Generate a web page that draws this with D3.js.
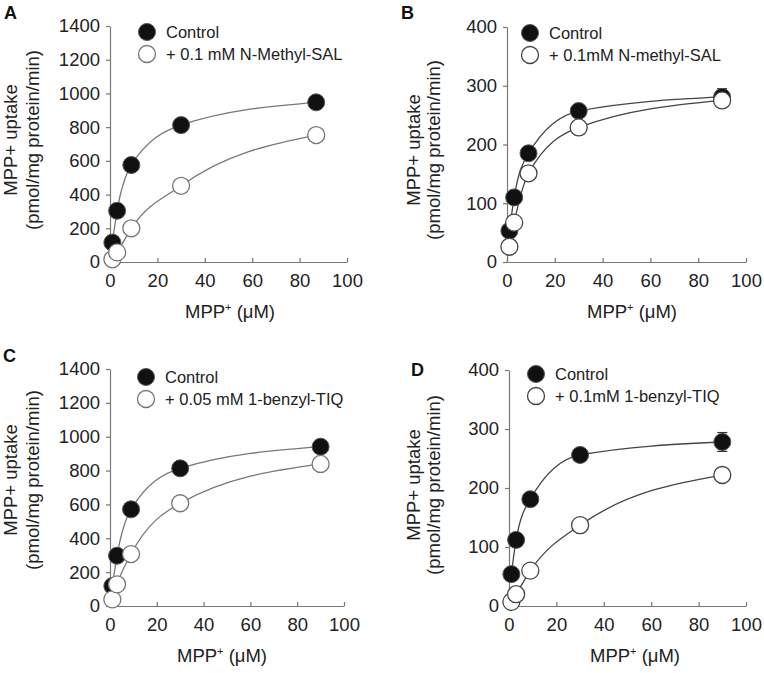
<!DOCTYPE html>
<html>
<head>
<meta charset="utf-8">
<script src="https://cdn.jsdelivr.net/npm/d3@7"></script>
<style>
  body { margin: 0; background: #fff; }
  svg { font-family: Arial, "Liberation Sans", sans-serif; }
</style>
</head>
<body>
<svg width="764" height="673"></svg>
<script>
// MPP+ concentrations (uM)
var concA = [1, 3, 9, 30, 87];
var concB = [1, 3, 9, 30, 90];
var concC = [1, 3, 9, 30, 90];
var concD = [1, 3, 9, 30, 90];

// uptake values, pmol/mg protein/min
var controlA = [115, 304, 575, 812, 947];
var treatedA = [16, 57, 200, 452, 753];
var controlB = [53, 110, 185, 257, 281];
var controlBErr = [0, 0, 0, 10, 14];
var treatedB = [26, 67, 151, 229, 275];
var controlC = [118, 297, 571, 813, 941];
var treatedC = [39, 128, 307, 607, 839];
var controlD = [54, 112, 181, 256, 278];
var controlDErr = [0, 0, 0, 10, 16];
var treatedD = [7, 20, 60, 137, 222];

var labelsTreated = ["+ 0.1 mM N-Methyl-SAL", "+ 0.1mM N-methyl-SAL", "+ 0.05 mM 1-benzyl-TIQ", "+ 0.1mM 1-benzyl-TIQ"];
var panelLetters = ["A", "B", "C", "D"];
var xTicks = [0, 20, 40, 60, 80, 100];

var panels = [
  {letter:panelLetters[0], conc:concA, ctrl:controlA, err:null, trt:treatedA, label:labelsTreated[0], yMax:1400, yStep:200,
   x0:110, x1:347, y0:262, y1:26, col:"#777", lx:147, ly:32, letterPos:[4,19], ylab:[11,33,140], xlab:[230,318]},
  {letter:panelLetters[1], conc:concB, ctrl:controlB, err:controlBErr, trt:treatedB, label:labelsTreated[1], yMax:400, yStep:100,
   x0:507, x1:746, y0:262, y1:27, col:"#444", lx:530, ly:33, letterPos:[401,19], ylab:[414,434,150], xlab:[632,318]},
  {letter:panelLetters[2], conc:concC, ctrl:controlC, err:null, trt:treatedC, label:labelsTreated[2], yMax:1400, yStep:200,
   x0:110, x1:344, y0:606, y1:369, col:"#777", lx:146, ly:377, letterPos:[3,362], ylab:[11,33,480], xlab:[222,662]},
  {letter:panelLetters[3], conc:concD, ctrl:controlD, err:controlDErr, trt:treatedD, label:labelsTreated[3], yMax:400, yStep:100,
   x0:509, x1:746, y0:606, y1:370, col:"#444", lx:536, ly:374, letterPos:[411,376], ylab:[414,434,485], xlab:[635,662]}
];

var svg = d3.select("svg");

panels.forEach(function(p) {
  var x = d3.scaleLinear().domain([0, 100]).range([p.x0, p.x1]);
  var y = d3.scaleLinear().domain([0, p.yMax]).range([p.y0, p.y1]);
  var g = svg.append("g");

  // axes
  var xAxis = d3.axisBottom(x).tickValues(xTicks).tickFormat(d3.format("d"))
    .tickSizeInner(-4).tickSizeOuter(0).tickPadding(12);
  var yAxis = d3.axisLeft(y).tickValues(d3.range(0, p.yMax + 1, p.yStep)).tickFormat(d3.format("d"))
    .tickSizeInner(4).tickSizeOuter(0).tickPadding(6);

  var gx = g.append("g").attr("transform", "translate(0," + p.y0 + ")").call(xAxis);
  var gy = g.append("g").attr("transform", "translate(" + p.x0 + ",0)").call(yAxis);
  [gx, gy].forEach(function(a) {
    a.selectAll("path,line").attr("stroke", "#777").attr("stroke-width", 1.2);
    a.selectAll("text").attr("fill", "#222").attr("font-size", "18.5px").attr("font-family", "Arial, 'Liberation Sans', sans-serif");
  });

  // fitted curves drawn through the points
  var line = d3.line()
    .x(function(d) { return x(d[0]); })
    .y(function(d) { return y(d[1]); })
    .curve(d3.curveMonotoneX);

  var ctrlPts = p.conc.map(function(c, i) { return [c, p.ctrl[i]]; });
  var trtPts = p.conc.map(function(c, i) { return [c, p.trt[i]]; });

  g.append("path").attr("d", line(ctrlPts)).attr("fill", "none").attr("stroke", p.col).attr("stroke-width", 1.3);
  g.append("path").attr("d", line(trtPts)).attr("fill", "none").attr("stroke", p.col).attr("stroke-width", 1.3);

  // error bars
  if (p.err) {
    ctrlPts.forEach(function(d, i) {
      var e = p.err[i];
      if (!e) return;
      g.append("line").attr("x1", x(d[0])).attr("x2", x(d[0]))
        .attr("y1", y(d[1] - e)).attr("y2", y(d[1] + e)).attr("stroke", "#333").attr("stroke-width", 1.2);
      [d[1] - e, d[1] + e].forEach(function(v) {
        g.append("line").attr("x1", x(d[0]) - 5).attr("x2", x(d[0]) + 5)
          .attr("y1", y(v)).attr("y2", y(v)).attr("stroke", "#333").attr("stroke-width", 1.2);
      });
    });
  }

  g.selectAll(".ctrl").data(ctrlPts).enter().append("circle")
    .attr("cx", function(d) { return x(d[0]); })
    .attr("cy", function(d) { return y(d[1]); })
    .attr("r", 8.5).attr("fill", "#111").attr("stroke", "#555").attr("stroke-width", 1);

  g.selectAll(".trt").data(trtPts).enter().append("circle")
    .attr("cx", function(d) { return x(d[0]); })
    .attr("cy", function(d) { return y(d[1]); })
    .attr("r", 8.5).attr("fill", "#fff").attr("stroke", p.col).attr("stroke-width", 1.3);

  // legend
  g.append("circle").attr("cx", p.lx).attr("cy", p.ly).attr("r", 8.5).attr("fill", "#111").attr("stroke", "#555");
  g.append("circle").attr("cx", p.lx).attr("cy", p.ly + 22).attr("r", 8.5).attr("fill", "#fff").attr("stroke", p.col).attr("stroke-width", 1.3);
  g.append("text").attr("x", p.lx + 19).attr("y", p.ly + 6).attr("font-size", "16.5px").attr("fill", "#222").text("Control");
  g.append("text").attr("x", p.lx + 19).attr("y", p.ly + 28).attr("font-size", "16.5px").attr("fill", "#222").text(p.label);

  // panel letter
  g.append("text").attr("x", p.letterPos[0]).attr("y", p.letterPos[1])
    .attr("font-size", "18px").attr("font-weight", "bold").attr("fill", "#111").text(p.letter);

  // y label (two lines)
  g.append("text").attr("transform", "translate(" + (p.ylab[0] + 6) + "," + p.ylab[2] + ") rotate(-90)")
    .attr("text-anchor", "middle").attr("font-size", "18.5px").attr("fill", "#222").text("MPP+ uptake");
  g.append("text").attr("transform", "translate(" + (p.ylab[1] + 6) + "," + p.ylab[2] + ") rotate(-90)")
    .attr("text-anchor", "middle").attr("font-size", "18.5px").attr("fill", "#222").text("(pmol/mg protein/min)");

  // x label
  var xl = g.append("text").attr("x", p.xlab[0]).attr("y", p.xlab[1])
    .attr("text-anchor", "middle").attr("font-size", "18.5px").attr("fill", "#222");
  xl.append("tspan").text("MPP");
  xl.append("tspan").attr("dy", -7).attr("font-size", "11px").text("+");
  xl.append("tspan").attr("dy", 7).text(" (\u03bcM)");
});
</script>
</body>
</html>
